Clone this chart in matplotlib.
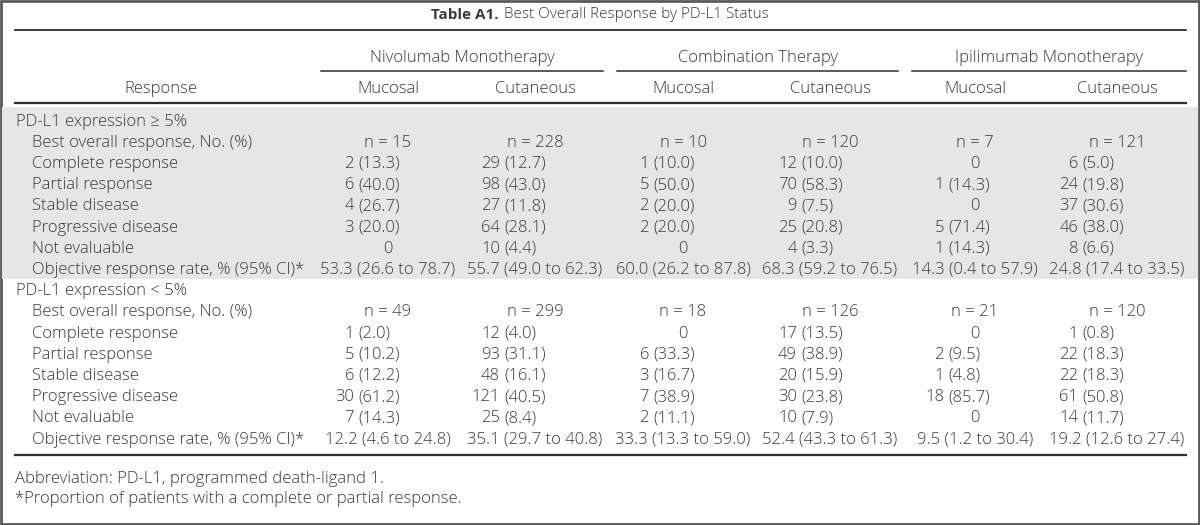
import matplotlib.pyplot as plt
from matplotlib.patches import Rectangle

plt.rcParams['font.family'] = ['Open Sans', 'DejaVu Sans']

# Table content
title_bold = 'Table A1.'
title_rest = 'Best Overall Response by PD-L1 Status'
groups = ['Nivolumab Monotherapy', 'Combination Therapy', 'Ipilimumab Monotherapy']
subgroups = ['Mucosal', 'Cutaneous', 'Mucosal', 'Cutaneous', 'Mucosal', 'Cutaneous']
first_col = 'Response'
sections = ['PD-L1 expression \u2265 5%', 'PD-L1 expression < 5%']
row_labels = ['Best overall response, No. (%)', 'Complete response', 'Partial response',
              'Stable disease', 'Progressive disease', 'Not evaluable',
              'Objective response rate, % (95% CI)*']

# PD-L1 >= 5%
n_hi = [15, 228, 10, 120, 7, 121]
counts_hi = [[2, 6, 4, 3, 0], [29, 98, 27, 64, 10], [1, 5, 2, 2, 0],
             [12, 70, 9, 25, 4], [0, 1, 0, 5, 1], [6, 24, 37, 46, 8]]
pct_hi = [[13.3, 40.0, 26.7, 20.0, None], [12.7, 43.0, 11.8, 28.1, 4.4],
          [10.0, 50.0, 20.0, 20.0, None], [10.0, 58.3, 7.5, 20.8, 3.3],
          [None, 14.3, None, 71.4, 14.3], [5.0, 19.8, 30.6, 38.0, 6.6]]
orr_hi = [53.3, 55.7, 60.0, 68.3, 14.3, 24.8]
orr_lo_ci_hi = [26.6, 49.0, 26.2, 59.2, 0.4, 17.4]
orr_up_ci_hi = [78.7, 62.3, 87.8, 76.5, 57.9, 33.5]

# PD-L1 < 5%
n_lo = [49, 299, 18, 126, 21, 120]
counts_lo = [[1, 5, 6, 30, 7], [12, 93, 48, 121, 25], [0, 6, 3, 7, 2],
             [17, 49, 20, 30, 10], [0, 2, 1, 18, 0], [1, 22, 22, 61, 14]]
pct_lo = [[2.0, 10.2, 12.2, 61.2, 14.3], [4.0, 31.1, 16.1, 40.5, 8.4],
          [None, 33.3, 16.7, 38.9, 11.1], [13.5, 38.9, 15.9, 23.8, 7.9],
          [None, 9.5, 4.8, 85.7, None], [0.8, 18.3, 18.3, 50.8, 11.7]]
orr_lo = [12.2, 35.1, 33.3, 52.4, 9.5, 19.2]
orr_lo_ci_lo = [4.6, 29.7, 13.3, 43.3, 1.2, 12.6]
orr_up_ci_lo = [24.8, 40.8, 59.0, 61.3, 30.4, 27.4]

footnotes = ['Abbreviation: PD-L1, programmed death-ligand 1.',
             '*Proportion of patients with a complete or partial response.']

# Layout (pixel units)
col_x = [388, 535, 683, 830, 975, 1117]
paren_x = [358, 504, 653, 801, 948, 1082]
group_span = [(321, 603), (617, 898), (912, 1186)]
row_y0, row_dy = 121.5, 21.2
fs = 12
wt = 'light'
txt_color = '#3a3a3a'
line_color = '#2e2e2e'

fig = plt.figure(figsize=(12, 5.25), dpi=100)
ax = fig.add_axes([0, 0, 1, 1])
ax.set_xlim(0, 1200)
ax.set_ylim(525, 0)
ax.axis('off')

# outer frame and shaded band
ax.add_patch(Rectangle((1, 1), 1198, 523, fill=False, edgecolor='#5a5a5a', lw=2))
ax.add_patch(Rectangle((2, 107), 1196, 172, facecolor='#e6e6e6', edgecolor='none'))

# title
renderer = fig.canvas.get_renderer()
t1 = ax.text(0, 15, title_bold, fontsize=11, weight='bold', color=txt_color, va='center')
t2 = ax.text(0, 15, title_rest, fontsize=11, weight=wt, color=txt_color, va='center')
w1 = t1.get_window_extent(renderer).width
w2 = t2.get_window_extent(renderer).width
start = 600 - (w1 + 5 + w2) / 2
t1.set_x(start)
t2.set_x(start + w1 + 5)

# rules
ax.plot([15, 1186], [30, 30], color=line_color, lw=1.3)
for (a, b) in group_span:
    ax.plot([a, b], [71, 71], color=line_color, lw=1.1)
ax.plot([15, 1186], [103, 103], color=line_color, lw=1.6)
ax.plot([15, 1186], [455, 455], color=line_color, lw=1.6)


def put(x, y, s, ha='left'):
    ax.text(x, y, s, fontsize=fs, weight=wt, color=txt_color, ha=ha, va='center')


# headers
for g, (a, b) in zip(groups, group_span):
    put((a + b) / 2, 58, g, 'center')
put(161, 89, first_col, 'center')
for x, s in zip(col_x, subgroups):
    put(x, 89, s, 'center')

# body
blocks = [(sections[0], n_hi, counts_hi, pct_hi, orr_hi, orr_lo_ci_hi, orr_up_ci_hi),
          (sections[1], n_lo, counts_lo, pct_lo, orr_lo, orr_lo_ci_lo, orr_up_ci_lo)]
r = 0
for sec, ns, counts, pcts, orr, ci_l, ci_u in blocks:
    put(16, row_y0 + r * row_dy, sec)
    r += 1
    for i, lab in enumerate(row_labels):
        y = row_y0 + r * row_dy
        put(32, y, lab)
        for j in range(6):
            if i == 0:
                put(col_x[j], y, f'n = {ns[j]}', 'center')
            elif i == 6:
                put(col_x[j], y, f'{orr[j]:.1f} ({ci_l[j]:.1f} to {ci_u[j]:.1f})', 'center')
            else:
                c = counts[j][i - 1]
                p = pcts[j][i - 1]
                if p is None:
                    put(col_x[j], y, str(c), 'center')
                else:
                    put(paren_x[j] - 4, y, str(c), 'right')
                    put(paren_x[j], y, f'({p:.1f})')
        r += 1

# footnotes
put(15, 479, footnotes[0])
put(15, 499, footnotes[1])

fig.savefig('out.png', dpi=100)
